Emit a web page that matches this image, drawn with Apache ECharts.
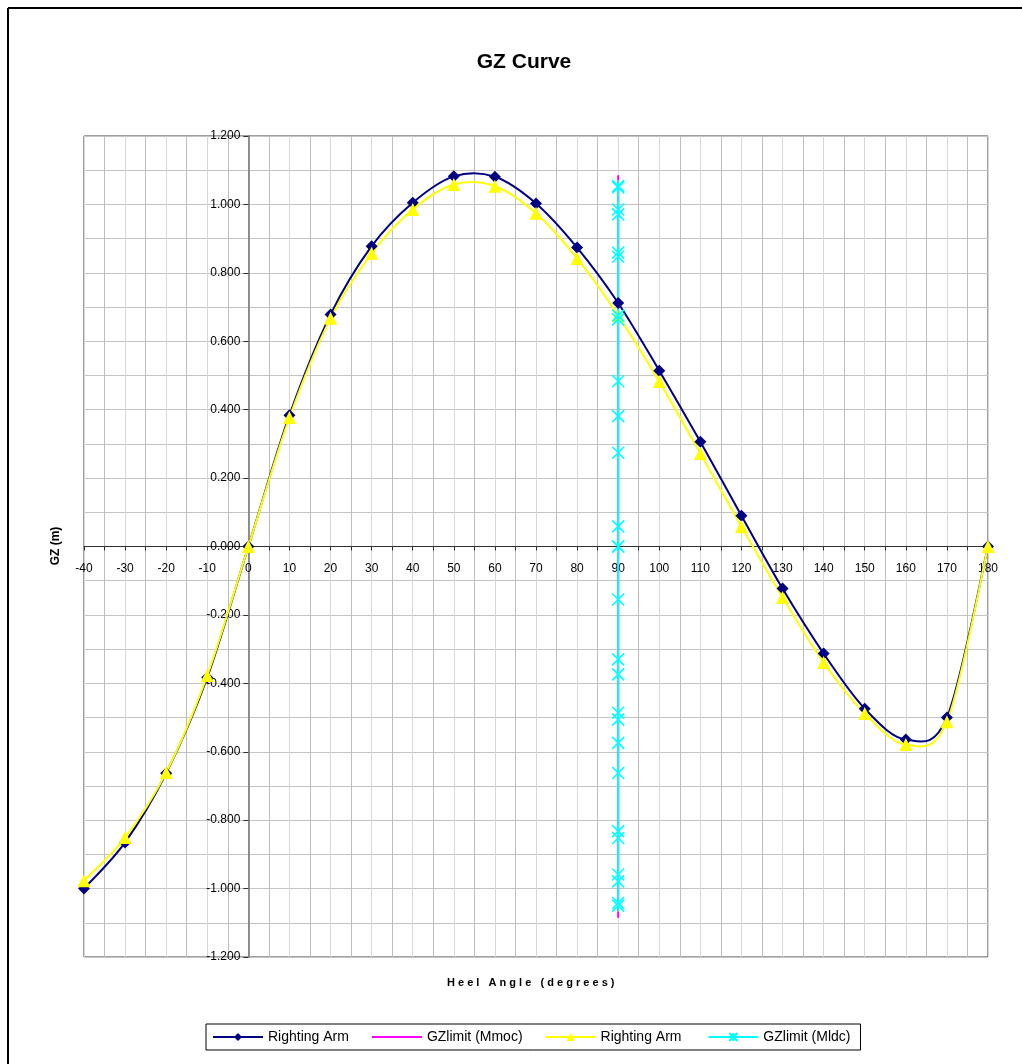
<!DOCTYPE html>
<html>
<head>
<meta charset="utf-8">
<script src="https://cdn.jsdelivr.net/npm/echarts@6/dist/echarts.min.js"></script>
<style>html,body{margin:0;padding:0;background:#fff;}#c{width:1022px;height:1064px;}</style>
</head>
<body>
<div id="c"></div>
<script>
// Heel angles (degrees)
var heelAngles = [-40,-30,-20,-10,0,10,20,30,40,50,60,70,80,90,100,110,120,130,140,150,160,170,180];
// Righting Arm (navy, diamonds)
var rightingArm1 = [-1.000,-0.865,-0.663,-0.383,0.000,0.384,0.678,0.878,1.005,1.082,1.081,1.003,0.874,0.712,0.514,0.306,0.090,-0.123,-0.313,-0.474,-0.564,-0.500,0.000];
// Righting Arm (yellow, triangles)
var rightingArm2 = [-0.977,-0.851,-0.661,-0.377,0.000,0.377,0.667,0.857,0.985,1.058,1.053,0.974,0.842,0.675,0.482,0.272,0.058,-0.149,-0.339,-0.488,-0.579,-0.512,0.000];
// GZlimit (Mmoc)
var limitMmocX = [90, 90];
var limitMmocY = [1.085, -1.085];
// GZlimit (Mldc)
var limitMldcY = [1.054,1.050,0.985,0.971,0.859,0.847,0.675,0.664,0.483,0.381,0.274,0.059,0.000,0.000,-0.155,-0.330,-0.374,-0.486,-0.506,-0.574,-0.662,-0.832,-0.852,-0.959,-0.979,-1.042,-1.050];
var limitMldcAngle = 90;
// Axis settings
var xMin = -40, xMax = 180, xStep = 10;
var yMin = -1.2, yMax = 1.2, yStep = 0.2;

function pairs(xs, ys){ return xs.map(function(x,i){ return [x, ys[i]]; }); }

var W = 1022, H = 1064;
var gridL = 84, gridR = 34, gridT = 136, gridB = 107;
var plotW = W - gridL - gridR, plotH = H - gridT - gridB;
// axes cross at zero
var yAxisOffset = -((0 - xMin) / (xMax - xMin)) * plotW;
var xAxisOffset = -((0 - yMin) / (yMax - yMin)) * plotH;

// Excel-like smooth curve drawn through the chart's own coordinate system
function smoothCurve(xs, ys, color){
  return function(params, api){
    if (params.dataIndex !== 0) return null;
    var p = xs.map(function(x, i){ return api.coord([x, ys[i]]); });
    var d = 'M' + p[0][0] + ',' + p[0][1];
    for (var i = 0; i < p.length - 1; i++){
      var p0 = p[Math.max(i - 1, 0)], p1 = p[i], p2 = p[i + 1], p3 = p[Math.min(i + 2, p.length - 1)];
      var c1x = p1[0] + (p2[0] - p0[0]) / 6, c1y = p1[1] + (p2[1] - p0[1]) / 6;
      var c2x = p2[0] - (p3[0] - p1[0]) / 6, c2y = p2[1] - (p3[1] - p1[1]) / 6;
      d += 'C' + c1x + ',' + c1y + ',' + c2x + ',' + c2y + ',' + p2[0] + ',' + p2[1];
    }
    return {type: 'path', shape: {pathData: d}, style: {stroke: color, lineWidth: 2, fill: null}, silent: true};
  };
}

var chart = echarts.init(document.getElementById('c'), null, {renderer:'canvas'});
var font = 'Arial, "Liberation Sans", sans-serif';
var starPath = 'path://M0,0L10,10M10,0L0,10M5,0L5,10';

var option = {
  backgroundColor: '#ffffff',
  animation: false,
  title: {
    text: 'GZ Curve',
    left: 519, top: 47, textAlign: 'center',
    textStyle: {fontFamily: font, fontSize: 21, fontWeight: 'bold', color: '#000'}
  },
  grid: {left: gridL, right: gridR, top: gridT, bottom: gridB, show: true, borderColor: '#404040', borderWidth: 1, backgroundColor: 'transparent'},
  legend: {
    bottom: 14, left: 206,
    itemWidth: 50, itemHeight: 10, itemGap: 22,
    padding: [6, 10, 6, 6],
    borderColor: '#000', borderWidth: 1,
    textStyle: {fontFamily: font, fontSize: 14, color: '#000'},
    data: [
      {name: 'Righting Arm', lineStyle: {color: '#000080', width: 2, opacity: 1}},
      {name: 'GZlimit (Mmoc)', lineStyle: {color: '#ff00ff', width: 2, opacity: 1}, itemStyle: {opacity: 0}},
      {name: 'Righting Arm ', lineStyle: {color: '#ffff00', width: 2, opacity: 1}},
      {name: 'GZlimit (Mldc)', lineStyle: {color: '#00ffff', width: 2, opacity: 1}}
    ]
  },
  xAxis: {
    type: 'value', min: xMin, max: xMax, interval: xStep,
    position: 'bottom', offset: xAxisOffset,
    axisLine: {onZero: false, lineStyle: {color: '#303030', width: 1}},
    axisTick: {show: true, length: 4, lineStyle: {color: '#303030'}},
    minorTick: {show: true, splitNumber: 2, length: 4, lineStyle: {color: '#303030'}},
    axisLabel: {fontFamily: font, fontSize: 12, color: '#000', margin: 16},
    splitLine: {show: true, lineStyle: {color: '#d8d8d8', width: 1}},
    minorSplitLine: {show: true, lineStyle: {color: '#bdbdbd', width: 1}}
  },
  yAxis: {
    type: 'value', min: yMin, max: yMax, interval: yStep,
    position: 'left', offset: yAxisOffset,
    axisLine: {onZero: false, lineStyle: {color: '#707070', width: 1.5}},
    axisTick: {show: true, length: 5, lineStyle: {color: '#303030'}},
    axisLabel: {fontFamily: font, fontSize: 12, color: '#000', margin: 8,
      formatter: function(v){ return (Math.abs(v) < 1e-9 ? 0 : v).toFixed(3); }},
    splitLine: {show: true, lineStyle: {color: '#c4c4c4', width: 1}},
    minorTick: {show: false, splitNumber: 2},
    minorSplitLine: {show: true, lineStyle: {color: '#c4c4c4', width: 1}}
  },
  graphic: [
    {type: 'line', shape: {x1: 8, y1: 8, x2: 1022, y2: 8}, style: {stroke: '#000', lineWidth: 2}},
    {type: 'line', shape: {x1: 8, y1: 8, x2: 8, y2: 1064}, style: {stroke: '#000', lineWidth: 2}},
    {type: 'text', left: 447, top: 977, style: {text: 'H e e l   A n g l e   ( d e g r e e s )', font: 'bold 11px Arial, "Liberation Sans", sans-serif', fill: '#000'}},
    {type: 'text', x: 56, y: 546, rotation: Math.PI/2, style: {text: 'GZ (m)', font: 'bold 12px Arial, "Liberation Sans", sans-serif', fill: '#000', align: 'center', verticalAlign: 'middle'}}
  ],
  series: [
    {name: '_curve1', type: 'custom', coordinateSystem: 'cartesian2d', data: [[xMin, 0]], encode: {x: 0, y: 1},
      renderItem: smoothCurve(heelAngles, rightingArm1, '#000080'), clip: false},
    {name: 'Righting Arm', type: 'line', data: pairs(heelAngles, rightingArm1), clip: false,
      symbol: 'diamond', symbolSize: 12, lineStyle: {color: '#000080', width: 0, opacity: 0}, itemStyle: {color: '#000080'}},
    {name: 'GZlimit (Mmoc)', type: 'line', data: pairs(limitMmocX, limitMmocY), symbol: 'none', clip: false,
      lineStyle: {color: '#ff00ff', width: 2}, itemStyle: {color: '#ff00ff'}},
    {name: '_curve2', type: 'custom', coordinateSystem: 'cartesian2d', data: [[xMin, 0]], encode: {x: 0, y: 1},
      renderItem: smoothCurve(heelAngles, rightingArm2, '#ffff00'), clip: false},
    {name: 'Righting Arm ', type: 'line', data: pairs(heelAngles, rightingArm2), clip: false,
      symbol: 'triangle', symbolSize: 13, lineStyle: {color: '#ffff00', width: 0, opacity: 0}, itemStyle: {color: '#ffff00'}},
    {name: 'GZlimit (Mldc)', type: 'line', data: limitMldcY.map(function(v){ return [limitMldcAngle, v]; }), clip: false,
      symbol: starPath, symbolSize: 12, lineStyle: {color: '#00ffff', width: 2},
      itemStyle: {color: '#00ffff', borderColor: '#00ffff', borderWidth: 1.6}}
  ]
};
chart.setOption(option);
</script>
</body>
</html>
